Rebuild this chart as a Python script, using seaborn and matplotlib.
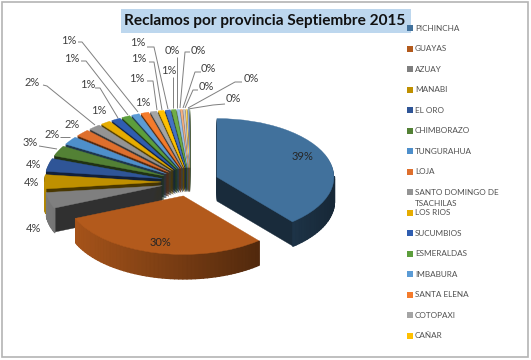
import numpy as np
import seaborn as sns
import matplotlib.pyplot as plt

# values (in %), legend only lists the first 16 names
provinces = ['PICHINCHA', 'GUAYAS', 'AZUAY', 'MANABI', 'EL ORO', 'CHIMBORAZO',
             'TUNGURAHUA', 'LOJA', 'SANTO DOMINGO DE\nTSACHILAS', 'LOS RIOS',
             'SUCUMBIOS', 'ESMERALDAS', 'IMBABURA', 'SANTA ELENA', 'COTOPAXI', 'CAÑAR']
values = [39.0, 30.0, 4.4, 3.9, 3.6, 2.9, 2.3, 2.0, 1.7, 1.4, 1.3, 1.2,
          1.1, 1.1, 0.9, 0.8, 0.7, 0.6, 0.4, 0.3, 0.3, 0.2, 0.2, 0.1]
colors = ['#41719C', '#B35A1C', '#7F7F7F', '#BF9000', '#2F5597', '#538135',
          '#4E8FCB', '#DE6F2D', '#949494', '#E6AC00', '#2F5DB0', '#5C9E3C',
          '#5B9BD5', '#F47B2C', '#A5A5A5', '#FFC000', '#4472C4', '#70AD47',
          '#9DC3E6', '#F4B183', '#C9C9C9', '#FFD966', '#8FAADC', '#A9D18E']
title = 'Reclamos por provincia Septiembre 2015'

# label centres in pixels, and leader lines for the crowded ones
label_xy = [(303, 156), (160, 242), (33, 229), (32, 183), (33, 164), (30, 142),
            (52, 134), (72, 124), (32, 82), (99, 110), (88, 85), (72, 59),
            (69, 40), (143, 102), (137, 78), (139, 59), (138, 43), (169, 70),
            (172, 51), (198, 50), (208, 68), (206, 87), (251, 79), (233, 99)]
leaders = [[(43, 85), (47, 86), (95, 125)],
           [(95, 88), (100, 88), (118, 118)],
           [(81, 61), (86, 61), (128, 115)],
           [(78, 42), (82, 42), (138, 112)],
           [(147, 81), (153, 81), (157, 110)],
           [(149, 62), (154, 62), (162, 110)],
           [(147, 47), (154, 47), (168, 109)],
           [(173, 77), (173, 108)],
           [(177, 57), (177, 108)],
           [(190, 52), (185, 52), (180, 108)],
           [(201, 72), (195, 72), (183, 108)],
           [(198, 90), (193, 90), (185, 108)],
           [(242, 82), (235, 82), (188, 108)],
           [(225, 104), (213, 105), (188, 109)],
           [(39, 146), (57, 149)],
           [(60, 137), (70, 137)]]

sns.set_theme(style='white')
plt.rcParams['font.family'] = ['Lato', 'DejaVu Sans']

fig = plt.figure(figsize=(5.31, 3.6), dpi=100)
pie_ax = fig.add_axes([0, 0, 1, 1])

explode = [0.245] * len(values)
depth = 0.41
layers = np.linspace(depth, 0, 26)


def shade(color, factor):
    return tuple(c * factor for c in sns.color_palette([color])[0])


# back slices first, the two big ones last
rank = {i: len(values) - i for i in range(2, len(values))}
rank[0] = len(values) + 1
rank[1] = len(values) + 2

for k, d in enumerate(layers):
    is_top = k == len(layers) - 1
    face = colors if is_top else [shade(c, 0.38) for c in colors]
    wedges, _ = pie_ax.pie(values, explode=explode, colors=face, startangle=90,
                           counterclock=False, center=(0, -d))
    for i, w in enumerate(wedges):
        w.set_edgecolor(face[i])
        w.set_linewidth(0.3)
        w.set_zorder(rank[i] + (0.98 if is_top else 0.9 * k / len(layers)))

# outer rim, lighter on the left and darker on the right
for i, w in enumerate(wedges):
    steps = max(2, int(abs(w.theta2 - w.theta1) / 2) + 1)
    thetas = np.radians(np.linspace(w.theta1, w.theta2, steps))
    cx, cy = w.center
    for t0, t1 in zip(thetas[:-1], thetas[1:]):
        mid = (t0 + t1) / 2
        if np.sin(mid) >= 0:
            continue
        xs = cx + np.cos([t0, t1])
        ys = cy + np.sin([t0, t1])
        tone = shade(colors[i], 0.65 - 0.3 * np.cos(mid))
        pie_ax.fill_between(xs, ys, ys - depth, color=tone, linewidth=1.0,
                            zorder=rank[i] + 0.95)

# 117 px per unit across, 58.5 px per unit down, pie centre at (190, 182)
pie_ax.set_aspect('auto')
pie_ax.set_xlim(-190 / 117, (531 - 190) / 117)
pie_ax.set_ylim(-(360 - 182) / 58.5, 182 / 58.5)

# overlay in pixel coordinates for texts and legend
ax = fig.add_axes([0, 0, 1, 1], zorder=50)
ax.patch.set_alpha(0)
ax.set_xlim(0, 531)
ax.set_ylim(360, 0)
ax.axis('off')

ax.add_patch(plt.Rectangle((2, 1.5), 526, 355.5, fill=False, ec='#B4B4B4', lw=1.2))
ax.add_patch(plt.Rectangle((120.5, 8.5), 290, 24, fc='#BDD7EE', ec='none'))
ax.text(264.5, 21, title, ha='center', va='center', fontsize=11.1,
        fontweight='bold', color='#111111')

for path in leaders:
    xs, ys = zip(*path)
    ax.plot(xs, ys, color='#7F7F7F', lw=0.7, solid_capstyle='butt')

for i, (v, (x, y)) in enumerate(zip(values, label_xy)):
    ax.text(x, y, f'{v:.0f}%', ha='center', va='center', fontsize=8,
            color='#262626' if i < 2 else '#404040')

for i, name in enumerate(provinces):
    y = 28.3 + 20.5 * i
    ax.scatter([410], [y], marker='s', s=13, color=colors[i], linewidths=0)
    ax.text(415, y, name.split('\n')[0], va='center', fontsize=5.9, color='#505050')
    if '\n' in name:
        ax.text(415, y + 11.7, name.split('\n')[1], va='center', fontsize=5.9, color='#505050')

fig.savefig('out.png', dpi=100)
